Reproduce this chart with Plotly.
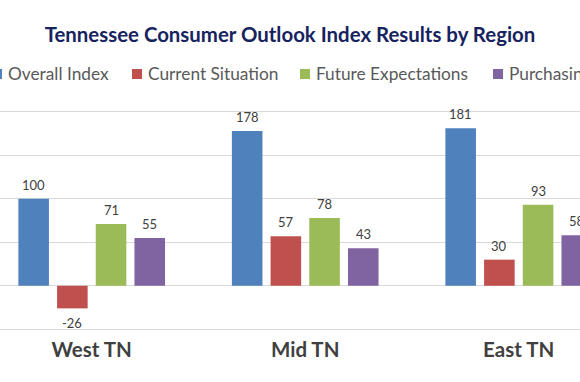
import plotly.graph_objects as go

# ---- data ----
regions = ["West TN", "Mid TN", "East TN"]
series_names = ["Overall Index", "Current Situation", "Future Expectations", "Purchasing Plans"]
overall_index = [100, 178, 181]
current_situation = [-26, 57, 30]
future_expectations = [71, 78, 93]
purchasing_plans = [55, 43, 58]
series_values = [overall_index, current_situation, future_expectations, purchasing_plans]

# ---- style ----
colors = ["#4F81BD", "#C0504D", "#9BBB59", "#8064A2"]
W, H = 580, 382
M_L, M_R, M_T, M_B = 0, 0, 110, 51
BARGAP, BARGROUPGAP = 0.275, 0.21
FONT = "Lato"
legend_square_px = [-8, 132, 300, 493]   # left edge of each legend square (px)
legend_y_px = 74

plot_h = H - M_T - M_B


def px_x(px):
    return px / (W - M_L - M_R)


def px_y(py):
    return (H - M_B - py) / plot_h


fig = go.Figure()
for name, vals, col in zip(series_names, series_values, colors):
    fig.add_trace(go.Bar(x=regions, y=vals, name=name, marker_color=col,
                         marker_line_width=0, showlegend=False))

# value labels
slot = (1 - BARGAP) / len(series_names)
for j, vals in enumerate(series_values):
    for i, v in enumerate(vals):
        fig.add_annotation(x=i + (j - (len(series_names) - 1) / 2) * slot, y=v,
                           xref="x", yref="y", text=str(v), showarrow=False,
                           yanchor="middle", yshift=14 if v >= 0 else -15,
                           font=dict(family=FONT, size=13, color="#404040"))

# manual legend (runs off both edges of the frame, as in the reference)
for name, col, sx in zip(series_names, colors, legend_square_px):
    fig.add_shape(type="rect", xref="paper", yref="paper",
                  xsizemode="pixel", ysizemode="pixel",
                  xanchor=px_x(sx), yanchor=px_y(legend_y_px),
                  x0=0, x1=10, y0=-5, y1=5,
                  fillcolor=col, line_width=0)
    fig.add_annotation(x=px_x(sx + 14), y=px_y(legend_y_px), xref="paper", yref="paper",
                       xanchor="left", yanchor="middle", text=name, showarrow=False,
                       font=dict(family=FONT, size=17.3, color="#595959"))

fig.update_layout(
    width=W, height=H,
    margin=dict(l=M_L, r=M_R, t=M_T, b=M_B, autoexpand=False),
    paper_bgcolor="white", plot_bgcolor="white",
    barmode="group", bargap=BARGAP, bargroupgap=BARGROUPGAP,
    title=dict(text="<b>Tennessee Consumer Outlook Index Results by Region</b>",
               x=0.5, xanchor="center", y=1 - 35 / H, yanchor="middle",
               font=dict(family=FONT, size=20.4, color="#16235E")),
    xaxis=dict(range=[-0.4295, 2.287], showgrid=False, zeroline=False, showline=False,
               ticks="", ticklabelstandoff=4,
               tickfont=dict(family=FONT, size=20.5, color="#404040", weight="bold")),
    yaxis=dict(range=[-52, 202], tick0=0, dtick=50, showgrid=True, gridcolor="#D9D9D9",
               gridwidth=1.3, zeroline=False, showline=False, showticklabels=False),
    showlegend=False,
)

fig.write_html("out.html", config={"displayModeBar": False},
               post_script="document.body.style.margin='0';")
